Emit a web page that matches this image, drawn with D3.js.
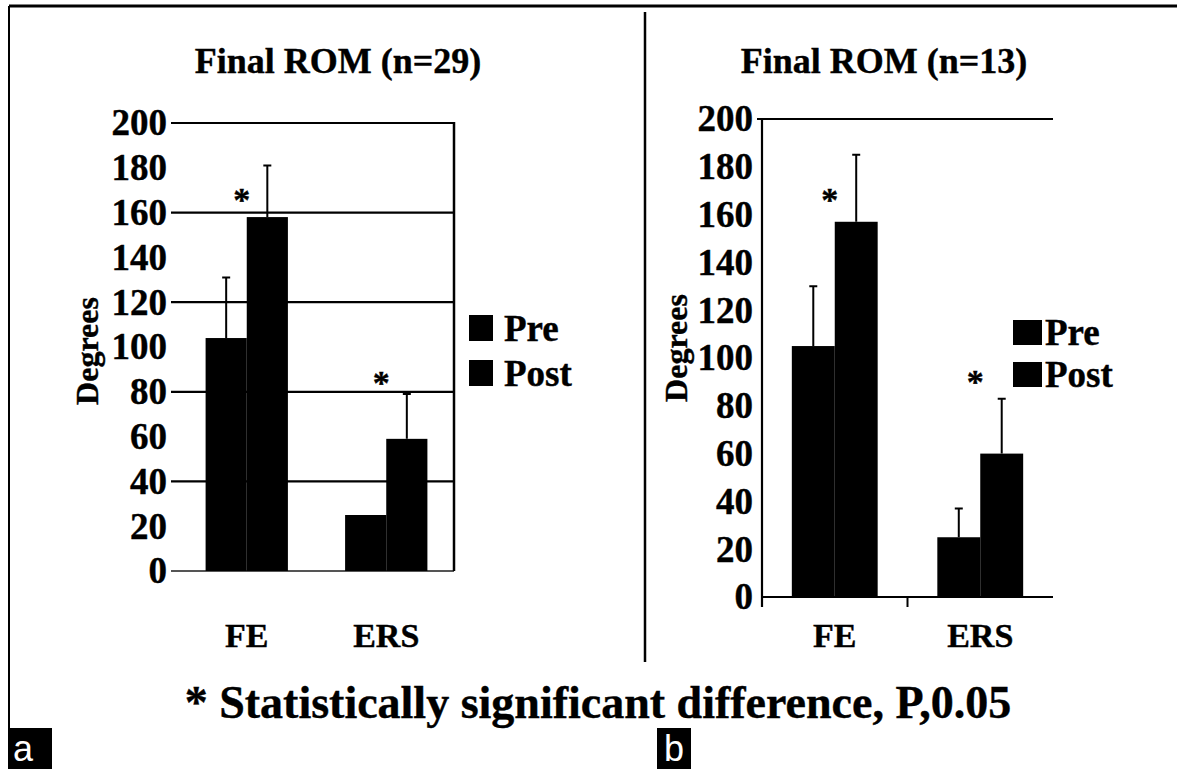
<!DOCTYPE html>
<html>
<head>
<meta charset="utf-8">
<script src="https://cdn.jsdelivr.net/npm/d3@7"></script>
<style>
  body { margin: 0; background: #fff; }
  svg { display: block; }
  text { font-family: "Liberation Serif", "Times New Roman", serif; font-weight: bold; fill: #000; stroke: #000; stroke-width: 0.4px; }
</style>
</head>
<body>
<div id="chart"></div>
<script>
// values (degrees)
var categories = ["FE", "ERS"];
var groups = ["Pre", "Post"];
var yTicks = [0, 20, 40, 60, 80, 100, 120, 140, 160, 180, 200];
var gridTicks = [40, 80, 120, 160, 200];

var preA = [104, 25];
var postA = [158, 59];
var preErrA = [27, 0];
var postErrA = [23, 20];
var starsA = [168, 86];

var preB = [105, 25];
var postB = [157, 60];
var preErrB = [25, 12];
var postErrB = [28, 23];
var starsB = [168, 92];

var titles = ["Final ROM (n=29)", "Final ROM (n=13)"];
var panelLabels = ["a", "b"];
var footnote = "* Statistically significant difference, P,0.05";

(function() {
  var width = 1177, height = 769;
  var svg = d3.select("#chart").append("svg")
    .attr("width", width).attr("height", height);

  function drawPanel(opt) {
    var rows, x0, x1, y, g, yAxis, ya, cats, leg;
    rows = categories.map(function(c, i) {
      return {
        category: c,
        star: opt.stars[i],
        values: [
          {key: "Pre", value: opt.pre[i], err: opt.preErr[i]},
          {key: "Post", value: opt.post[i], err: opt.postErr[i]}
        ]
      };
    });
    x0 = d3.scaleBand().domain(categories).range(opt.xRange).paddingInner(0.41).paddingOuter(0.205);
    x1 = d3.scaleBand().domain(groups).range([0, x0.bandwidth()]);
    y = d3.scaleLinear().domain([0, 200]).range([opt.bottom, opt.top]);
    g = svg.append("g");

    g.append("text")
      .attr("x", opt.titleX).attr("y", 73)
      .attr("text-anchor", "middle")
      .style("font-size", "36px")
      .text(opt.title);

    if (opt.theme === "grid") {
      g.append("g").selectAll("line").data(gridTicks).join("line")
        .attr("x1", opt.left).attr("x2", opt.right)
        .attr("y1", function(d) { return y(d); })
        .attr("y2", function(d) { return y(d); })
        .attr("stroke", "#000").attr("stroke-width", 2.2);
      g.append("line")
        .attr("x1", opt.left).attr("x2", opt.right)
        .attr("y1", y(0)).attr("y2", y(0))
        .attr("stroke", "#555").attr("stroke-width", 2);
      g.append("line")
        .attr("x1", opt.right).attr("x2", opt.right)
        .attr("y1", y(200) - 1).attr("y2", y(0))
        .attr("stroke", "#000").attr("stroke-width", 2.5);
    } else {
      g.append("line")
        .attr("x1", opt.left - 5).attr("x2", opt.right)
        .attr("y1", y(200)).attr("y2", y(200))
        .attr("stroke", "#000").attr("stroke-width", 2);
      g.append("line")
        .attr("x1", opt.left).attr("x2", opt.left)
        .attr("y1", y(200)).attr("y2", y(0) + 10)
        .attr("stroke", "#000").attr("stroke-width", 2.2);
      g.append("line")
        .attr("x1", opt.left).attr("x2", opt.right)
        .attr("y1", y(0)).attr("y2", y(0))
        .attr("stroke", "#000").attr("stroke-width", 2);
      // category boundary tick
      g.append("g").selectAll("line").data(categories.slice(1)).join("line")
        .attr("x1", function(d) { return x0(d) - x0.step() * x0.paddingInner() / 2; })
        .attr("x2", function(d) { return x0(d) - x0.step() * x0.paddingInner() / 2; })
        .attr("y1", y(0)).attr("y2", y(0) + 10)
        .attr("stroke", "#000").attr("stroke-width", 2);
    }

    yAxis = d3.axisLeft(y).tickValues(yTicks).tickSize(0).tickPadding(opt.tickPad).tickFormat(d3.format("d"));
    ya = g.append("g").attr("transform", "translate(" + opt.left + ",0)").call(yAxis);
    ya.select(".domain").remove();
    ya.selectAll("text").style("font-size", "37px");

    g.append("text")
      .attr("transform", "translate(" + opt.degX + "," + opt.degY + ") rotate(-90)")
      .attr("text-anchor", "middle")
      .attr("dy", "0.35em")
      .style("font-size", "32px")
      .text("Degrees");

    cats = g.append("g").selectAll("g").data(rows).join("g")
      .attr("transform", function(d) { return "translate(" + x0(d.category) + ",0)"; });

    cats.selectAll("rect").data(function(d) { return d.values; }).join("rect")
      .attr("x", function(d) { return x1(d.key); })
      .attr("y", function(d) { return y(d.value); })
      .attr("width", x1.bandwidth())
      .attr("height", function(d) { return y(0) - y(d.value); })
      .attr("fill", "#000");

    cats.selectAll(".err").data(function(d) {
      return d.values.filter(function(v) { return v.err > 0; });
    }).join("path")
      .attr("class", "err")
      .attr("d", function(d) {
        var cx = x1(d.key) + x1.bandwidth() / 2, top = y(d.value + d.err);
        return "M" + cx + "," + y(d.value) + "V" + top + "M" + (cx - 4) + "," + top + "H" + (cx + 4);
      })
      .attr("stroke", "#000").attr("stroke-width", 2).attr("fill", "none");

    cats.append("text")
      .attr("x", x1("Post") - 5)
      .attr("y", function(d) { return y(d.star) + 16; })
      .attr("text-anchor", "middle")
      .style("font-size", "34px")
      .text("*");

    g.append("g").selectAll("text").data(categories).join("text")
      .attr("x", function(d) { return x0(d) + x0.bandwidth() / 2; })
      .attr("y", 647)
      .attr("text-anchor", "middle")
      .style("font-size", "34px")
      .text(function(d) { return d; });

    leg = g.append("g").selectAll("g").data(groups).join("g")
      .attr("transform", function(d, i) { return "translate(0," + (opt.legendY + i * opt.legendGap) + ")"; });
    leg.append("rect")
      .attr("x", opt.legendX).attr("y", 0)
      .attr("width", opt.boxW).attr("height", opt.boxH)
      .attr("fill", "#000");
    leg.append("text")
      .attr("x", opt.legendTextX).attr("y", opt.boxH)
      .style("font-size", "37px")
      .text(function(d) { return d; });
  }

  drawPanel({
    theme: "grid", title: titles[0], titleX: 338,
    left: 171, right: 454, top: 123, bottom: 571, xRange: [177, 456], tickPad: 4,
    degX: 87, degY: 351,
    pre: preA, post: postA, preErr: preErrA, postErr: postErrA, stars: starsA,
    legendX: 469, legendY: 315, legendGap: 45, boxW: 24, boxH: 26, legendTextX: 504
  });
  drawPanel({
    theme: "axes", title: titles[1], titleX: 884,
    left: 762, right: 1053, top: 119, bottom: 597, xRange: [762, 1053], tickPad: 9,
    degX: 676, degY: 348,
    pre: preB, post: postB, preErr: preErrB, postErr: postErrB, stars: starsB,
    legendX: 1013, legendY: 320, legendGap: 42, boxW: 29, boxH: 25, legendTextX: 1045
  });

  // outer frame and divider
  svg.append("line").attr("x1", 9).attr("x2", width).attr("y1", 6).attr("y2", 6)
    .attr("stroke", "#000").attr("stroke-width", 3);
  svg.append("line").attr("x1", 9).attr("x2", 9).attr("y1", 6).attr("y2", height)
    .attr("stroke", "#000").attr("stroke-width", 2);
  svg.append("line").attr("x1", 645).attr("x2", 645).attr("y1", 12).attr("y2", 662)
    .attr("stroke", "#000").attr("stroke-width", 2.5);

  svg.append("text")
    .attr("x", 598).attr("y", 718)
    .attr("text-anchor", "middle")
    .style("font-size", "46px")
    .text(footnote);

  var boxes = [{x: 9, w: 43, tx: 13}, {x: 657, w: 34, tx: 664}];
  var pl = svg.append("g").selectAll("g").data(panelLabels).join("g");
  pl.append("rect")
    .attr("x", function(d, i) { return boxes[i].x; })
    .attr("y", 728)
    .attr("width", function(d, i) { return boxes[i].w; })
    .attr("height", height - 728)
    .attr("fill", "#000");
  pl.append("text")
    .attr("x", function(d, i) { return boxes[i].tx; })
    .attr("y", 761)
    .style("font-family", "'Liberation Sans', Arial, sans-serif")
    .style("font-weight", "normal")
    .style("font-size", "36px")
    .style("fill", "#fff")
    .style("stroke", "none")
    .text(function(d) { return d; });
}).call(this);
</script>
</body>
</html>
